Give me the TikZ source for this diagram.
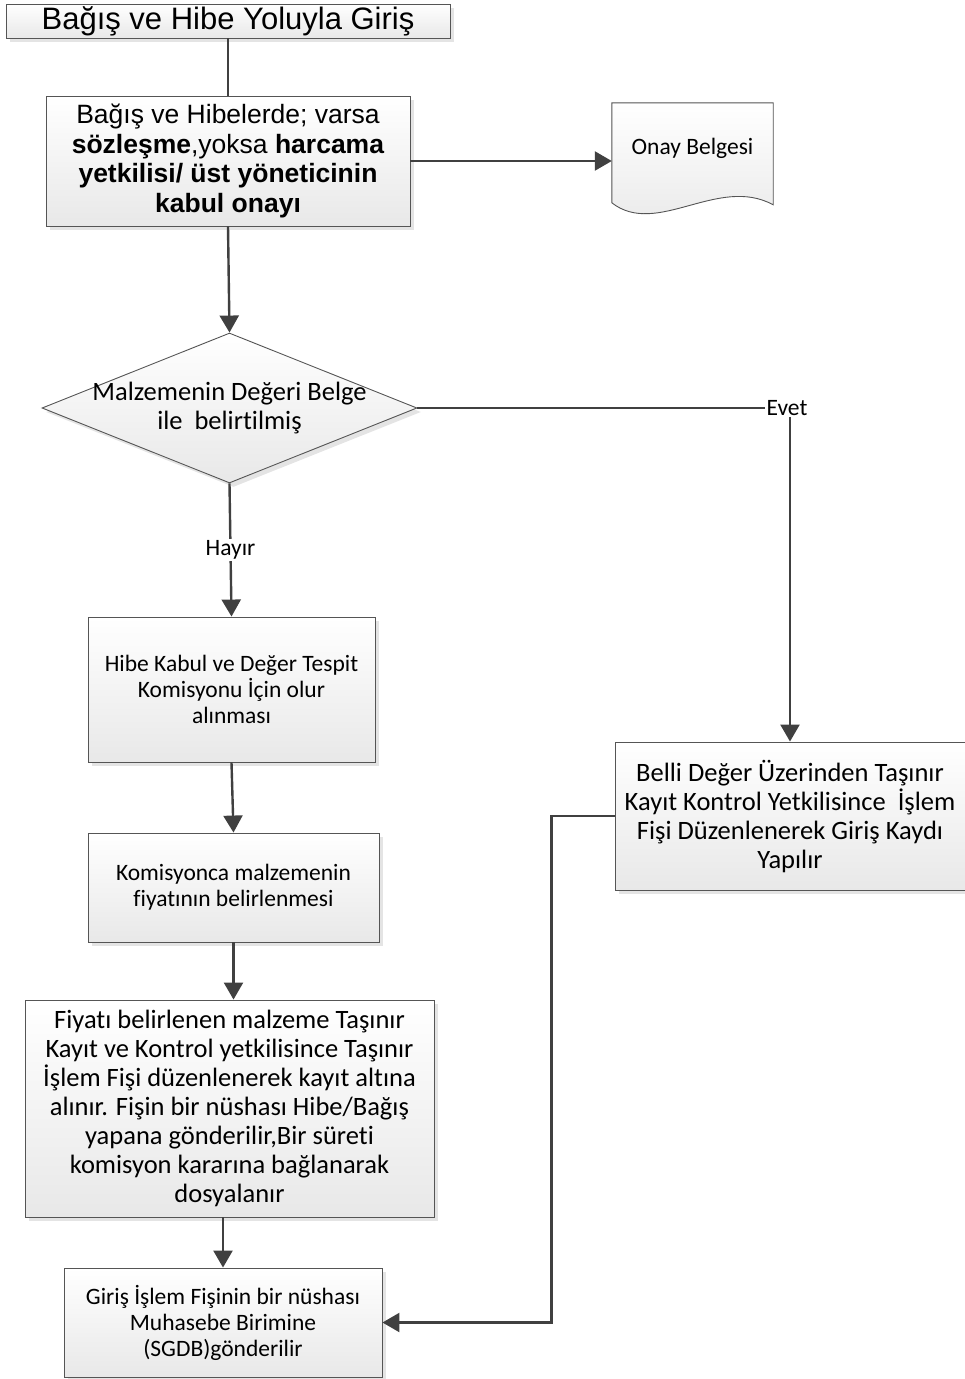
\documentclass[tikz,border=0pt]{standalone}
\usepackage{fontspec}
\setmainfont{Carlito}[Ligatures=NoCommon]
\newfontfamily\arialf{Liberation Sans}
\usetikzlibrary{shapes.geometric,arrows.meta,shadows,calc}
\definecolor{lnc}{HTML}{404040}
\definecolor{bdc}{HTML}{555555}
\tikzset{
  pbox/.style={rectangle, draw=bdc, line width=0.9pt, top color=white, bottom color=black!9,
    align=center, inner sep=2pt,
    drop shadow={shadow xshift=4pt, shadow yshift=-4pt, fill=black!15, opacity=0.7}},
  conn/.style={draw=lnc, line width=2.4pt},
  arr/.style={conn, -{Triangle[length=17pt,width=19pt]}},
  fA/.style={font=\arialf\fontsize{31}{34}\selectfont},
  fB/.style={font=\arialf\fontsize{26.5}{29.5}\selectfont},
  fC/.style={font=\fontsize{26.5}{29}\selectfont},
  fD/.style={font=\fontsize{23.5}{26}\selectfont},
  fE/.style={font=\fontsize{23.5}{26}\selectfont},
}
\begin{document}
\begin{tikzpicture}[x=1pt,y=1pt]
\useasboundingbox (0,0) rectangle (965,-1379);
\node[pbox, fA, minimum width=444pt, minimum height=34pt, inner sep=0pt] (title) at (228,-21) {Bağış ve Hibe Yoluyla Giriş};
\node[pbox, fB, minimum width=364pt, minimum height=130pt] (b2) at (228,-161)
  {Bağış ve Hibelerde; varsa\\\textbf{sözleşme},yoksa \textbf{harcama}\\\textbf{yetkilisi/ üst yöneticinin}\\\textbf{kabul onayı}};
% document shape
\node[minimum width=161pt, minimum height=104pt, inner sep=0pt] (doc) at (692.5,-155) {};
\fill[black!15, opacity=0.7, xshift=4pt, yshift=-4pt] (doc.north west) -- (doc.north east) -- ($(doc.north east)+(0,-102)$)
  .. controls ($(doc.north east)+(-55,-72)$) and ($(doc.north west)+(45,-135)$) .. ($(doc.north west)+(0,-100)$) -- cycle;
\draw[draw=bdc, line width=0.9pt, top color=white, bottom color=black!9] (doc.north west) -- (doc.north east) -- ($(doc.north east)+(0,-102)$)
  .. controls ($(doc.north east)+(-55,-72)$) and ($(doc.north west)+(45,-135)$) .. ($(doc.north west)+(0,-100)$) -- cycle;
\node[fD] (doctext) at (692.5,-148) {Onay Belgesi};
% diamond
\node[diamond, draw=bdc, line width=0.9pt, top color=white, bottom color=black!9,
  minimum width=375pt, minimum height=150pt, inner sep=0pt,
  drop shadow={shadow xshift=4pt, shadow yshift=-4pt, fill=black!15, opacity=0.7},
  label={[fC, align=center]center:Malzemenin Değeri Belge\\ile\ \ belirtilmiş}] (dia) at (229.5,-408) {};
\node[fE, inner sep=1pt] (evet) at (787,-408) {Evet};
\node[pbox, fC, minimum width=350pt, minimum height=148pt] (rb) at (790,-816)
  {Belli Değer Üzerinden Taşınır\\Kayıt Kontrol Yetkilisince\ \ İşlem\\Fişi Düzenlenerek Giriş Kaydı\\Yapılır};
\node[pbox, fD, minimum width=287pt, minimum height=145pt] (b3) at (231.5,-689.5)
  {Hibe Kabul ve Değer Tespit\\Komisyonu İçin olur\\alınması};
\node[pbox, fD, minimum width=291pt, minimum height=109pt] (b4) at (233.5,-887.5)
  {Komisyonca malzemenin\\fiyatının belirlenmesi};
\node[pbox, fC, minimum width=409pt, minimum height=217pt] (b5) at (229.5,-1108.5)
  {Fiyatı belirlenen malzeme Taşınır\\Kayıt ve Kontrol yetkilisince Taşınır\\İşlem Fişi düzenlenerek kayıt altına\\alınır. Fişin bir nüshası Hibe/Bağış\\yapana gönderilir,Bir süreti\\komisyon kararına bağlanarak\\dosyalanır};
\node[pbox, fD, minimum width=318pt, minimum height=109pt] (b6) at (223,-1322.5)
  {Giriş İşlem Fişinin bir nüshası\\Muhasebe Birimine\\(SGDB)gönderilir};
% connectors
\draw[conn] (title.south) -- (b2.north);
\draw[arr] (b2.east) -- (b2.east -| doc.west);
\draw[arr] (b2.south) -- (dia.north);
\draw[conn] (dia.east) -- (evet.west);
\draw[arr] (rb.north |- evet.south) -- (rb.north);
\draw[arr] (dia.south) -- node[fE, fill=white, inner sep=2pt] (hayir) {Hayır} (b3.north);
\draw[arr] (b3.south) -- (b4.north);
\draw[arr] (b4.south) -- (b5.north -| b4.south);
\draw[arr] (b5.south -| b6.north) -- (b6.north);
\draw[arr] (rb.west) -- ++(-63,0) |- (b6.east);
\end{tikzpicture}
\end{document}
